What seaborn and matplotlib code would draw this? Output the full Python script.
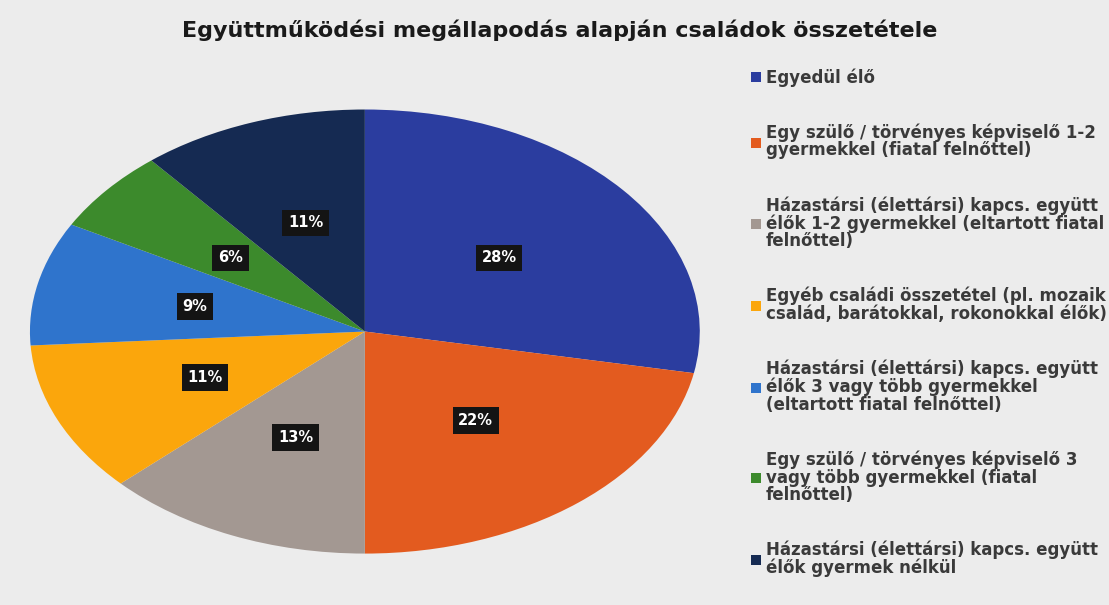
import matplotlib
matplotlib.use("Agg")
import matplotlib.pyplot as plt
import seaborn as sns

TITLE = "Együttműködési megállapodás alapján családok összetétele"

CATEGORIES = [
    "Egyedül élő",
    "Egy szülő / törvényes képviselő 1-2\ngyermekkel (fiatal felnőttel)",
    "Házastársi (élettársi) kapcs. együtt\nélők 1-2 gyermekkel (eltartott fiatal\nfelnőttel)",
    "Egyéb családi összetétel (pl. mozaik\ncsalád, barátokkal, rokonokkal élők)",
    "Házastársi (élettársi) kapcs. együtt\nélők 3 vagy több gyermekkel\n(eltartott fiatal felnőttel)",
    "Egy szülő / törvényes képviselő 3\nvagy több gyermekkel (fiatal\nfelnőttel)",
    "Házastársi (élettársi) kapcs. együtt\nélők gyermek nélkül",
]
SHARES = [28, 22, 13, 11, 9, 6, 11]
COLORS = ["#2b3d9f", "#e35b1f", "#a39892", "#fba60c", "#2f74cc", "#3c8a2c", "#152a52"]

sns.set_theme(style="white")
plt.rcParams["font.family"] = ["DejaVu Sans"]

palette = sns.color_palette(COLORS)

fig = plt.figure(figsize=(11.09, 6.05), dpi=100, facecolor="#ececec")
ax = fig.add_axes([0.027, 0.085, 0.604, 0.734])
ax.set_facecolor("none")

wedges, _, autotexts = ax.pie(
    SHARES,
    colors=palette,
    startangle=90,
    counterclock=False,
    autopct="%d%%",
    pctdistance=0.52,
    wedgeprops={"linewidth": 0},
)
for t in autotexts:
    t.set_color("white")
    t.set_fontweight("bold")
    t.set_fontsize(10.5)
    t.set_bbox(dict(boxstyle="square,pad=0.4", facecolor="#141414", edgecolor="none"))

# stretched (elliptical) pie like the original
ax.set_aspect("auto")
ax.set_xlim(-1, 1)
ax.set_ylim(-1, 1)

fig.suptitle(TITLE, x=0.505, y=0.968, fontsize=16, fontweight="bold", color="#1a1a1a")

leg = fig.legend(
    wedges,
    CATEGORIES,
    loc="upper left",
    bbox_to_anchor=(0.664, 0.912),
    frameon=False,
    fontsize=12,
    handlelength=0.55,
    handleheight=0.55,
    handletextpad=0.3,
    labelspacing=2.2,
)
for txt in leg.get_texts():
    txt.set_color("#3a3a3a")
    txt.set_fontweight("bold")
    txt.set_linespacing(0.97)

fig.savefig("out.png", dpi=100, facecolor=fig.get_facecolor())
